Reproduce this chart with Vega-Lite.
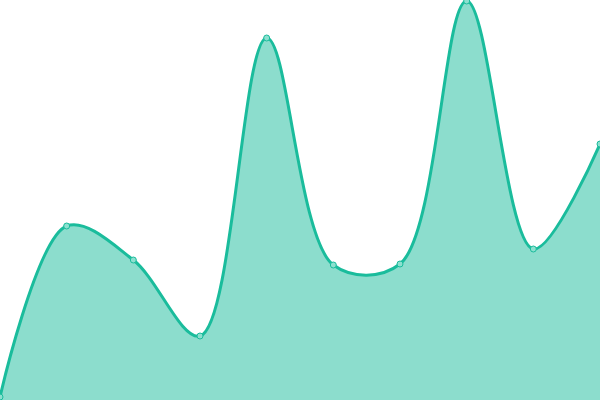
{
  "$schema": "https://vega.github.io/schema/vega-lite/v6.json",
  "width": 600,
  "height": 400,
  "autosize": "none",
  "padding": 0,
  "background": "white",
  "config": {"view": {"stroke": null}},
  "data": {
    "values": [
      {"i": 0, "v": 3},
      {"i": 1, "v": 174},
      {"i": 2, "v": 140},
      {"i": 3, "v": 64},
      {"i": 4, "v": 362},
      {"i": 5, "v": 135},
      {"i": 6, "v": 136},
      {"i": 7, "v": 399},
      {"i": 8, "v": 151},
      {"i": 9, "v": 256}
    ]
  },
  "encoding": {
    "x": {"field": "i", "type": "quantitative", "scale": {"domain": [0, 9], "nice": false}, "axis": null},
    "y": {"field": "v", "type": "quantitative", "scale": {"domain": [0, 400], "nice": false}, "axis": null}
  },
  "layer": [
    {
      "mark": {"type": "area", "interpolate": "catmull-rom", "color": "#1abc9c", "opacity": 0.5}
    },
    {
      "mark": {"type": "line", "interpolate": "catmull-rom", "color": "#1abc9c", "strokeWidth": 3}
    },
    {
      "mark": {"type": "point", "filled": true, "fill": "#8ce0cf", "stroke": "#1abc9c", "strokeWidth": 1, "size": 36, "opacity": 1}
    }
  ]
}
